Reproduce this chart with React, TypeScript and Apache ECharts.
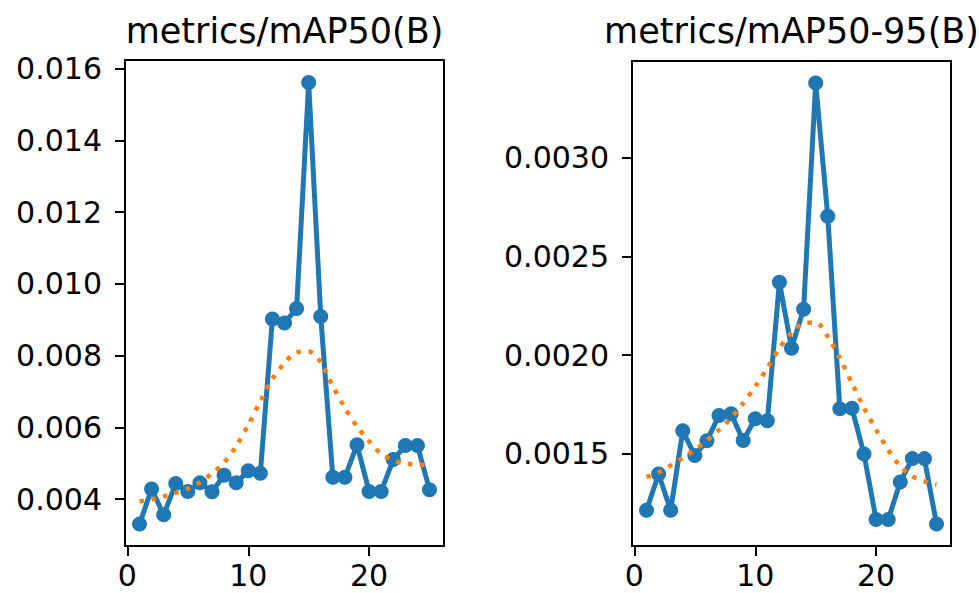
import React, { useEffect, useRef } from "react";
import * as echarts from "echarts";

const epochs = [1, 2, 3, 4, 5, 6, 7, 8, 9, 10, 11, 12, 13, 14, 15, 16, 17, 18, 19, 20, 21, 22, 23, 24, 25];

const map50 = [
  0.0033, 0.00428, 0.00356, 0.00443, 0.00421, 0.00445, 0.0042, 0.00466, 0.00445, 0.00479,
  0.00472, 0.00902, 0.00891, 0.00931, 0.01561, 0.00909, 0.00461, 0.00461, 0.00551, 0.00421,
  0.00421, 0.0051, 0.00549, 0.00549, 0.00426,
];
const map50Smooth = [
  0.00393, 0.00399, 0.00407, 0.00417, 0.00429, 0.00446, 0.00471, 0.00502, 0.00547, 0.00607,
  0.00672, 0.00735, 0.00779, 0.00809, 0.00811, 0.00781, 0.00714, 0.00654, 0.00602, 0.00561,
  0.00526, 0.00508, 0.00499, 0.00496, 0.00494,
];
const map5095 = [
  0.001213, 0.001397, 0.001213, 0.001616, 0.001491, 0.001566, 0.001694, 0.001702, 0.001567, 0.001677,
  0.001667, 0.002369, 0.002035, 0.002232, 0.003379, 0.002704, 0.001728, 0.001731, 0.001498, 0.001166,
  0.001166, 0.001357, 0.001475, 0.001475, 0.001144,
];
const map5095Smooth = [
  0.001382, 0.001405, 0.001441, 0.001478, 0.00152, 0.001567, 0.001621, 0.001681, 0.001757, 0.001841,
  0.001934, 0.002035, 0.002114, 0.002161, 0.002165, 0.002094, 0.001984, 0.001858, 0.001731, 0.001621,
  0.00152, 0.001436, 0.001385, 0.00136, 0.001343,
];

const xTicks = [0, 10, 20];
const map50Ticks = [0.004, 0.006, 0.008, 0.01, 0.012, 0.014, 0.016];
const map5095Ticks = [0.0015, 0.002, 0.0025, 0.003];
const titles = ["metrics/mAP50(B)", "metrics/mAP50-95(B)"];

const FONT = "DejaVu Sans";
const BLUE = "#1f77b4";
const ORANGE = "#ff7f0e";

export default function App() {
  const ref = useRef<HTMLDivElement>(null);
  useEffect(() => {
    if (!ref.current) return;
    const chart = echarts.init(ref.current, null, { renderer: "svg" });

    const grids = [
      { left: 125, top: 60, width: 319, height: 486 },
      { left: 632, top: 61, width: 319, height: 485 },
    ];

    const xAxisFor = (gi: number) => ({
      type: "value",
      gridIndex: gi,
      min: -0.2,
      max: 26.2,
      axisLine: { show: true, onZero: false, lineStyle: { color: "#000", width: 2 } },
      axisTick: { show: true, length: 10, customValues: xTicks, lineStyle: { color: "#000", width: 2 } },
      axisLabel: {
        customValues: xTicks,
        margin: 14,
        color: "#000",
        fontFamily: FONT,
        fontSize: 30,
        formatter: (v: number) => String(Math.round(v)),
      },
      splitLine: { show: false },
    });

    const yAxisFor = (gi: number, min: number, max: number, ticks: number[], dec: number) => ({
      type: "value",
      gridIndex: gi,
      min,
      max,
      axisLine: { show: true, onZero: false, lineStyle: { color: "#000", width: 2 } },
      axisTick: { show: true, length: 10, customValues: ticks, lineStyle: { color: "#000", width: 2 } },
      axisLabel: {
        customValues: ticks,
        margin: 23,
        color: "#000",
        fontFamily: FONT,
        fontSize: 30,
        formatter: (v: number) => v.toFixed(dec),
      },
      splitLine: { show: false },
    });

    const pairs = (ys: number[]) => epochs.map((x, i) => [x, ys[i]]);

    const mainSeries = (gi: number, ys: number[]) => ({
      type: "line",
      xAxisIndex: gi,
      yAxisIndex: gi,
      data: pairs(ys),
      symbol: "circle",
      symbolSize: 15,
      showSymbol: true,
      itemStyle: { color: BLUE },
      lineStyle: { color: BLUE, width: 5 },
      z: 2,
    });
    const smoothSeries = (gi: number, ys: number[]) => ({
      type: "line",
      xAxisIndex: gi,
      yAxisIndex: gi,
      data: pairs(ys),
      symbol: "none",
      smooth: 0.3,
      itemStyle: { color: ORANGE },
      lineStyle: { color: ORANGE, width: 4.5, type: [4.5, 7.5], cap: "butt" },
      z: 3,
    });

    chart.setOption({
      animation: false,
      backgroundColor: "#fff",
      grid: grids.map((g) => ({ ...g, show: true, borderColor: "#000", borderWidth: 2, backgroundColor: "transparent" })),
      xAxis: [xAxisFor(0), xAxisFor(1)],
      yAxis: [
        yAxisFor(0, 0.00269, 0.01624, map50Ticks, 3),
        yAxisFor(1, 0.001032, 0.003491, map5095Ticks, 4),
      ],
      series: [
        mainSeries(0, map50),
        smoothSeries(0, map50Smooth),
        mainSeries(1, map5095),
        smoothSeries(1, map5095Smooth),
      ],
      graphic: titles.map((t, i) => ({
        type: "text",
        x: grids[i].left + grids[i].width / 2,
        y: 31,
        style: {
          text: t,
          fontFamily: FONT,
          fontSize: 35,
          fill: "#000",
          textAlign: "center",
          textVerticalAlign: "middle",
        },
      })),
    });
    return () => chart.dispose();
  }, []);

  return (
    <div
      ref={ref}
      style={{ position: "absolute", left: 0, top: 0, width: 979, height: 593 }}
    />
  );
}
